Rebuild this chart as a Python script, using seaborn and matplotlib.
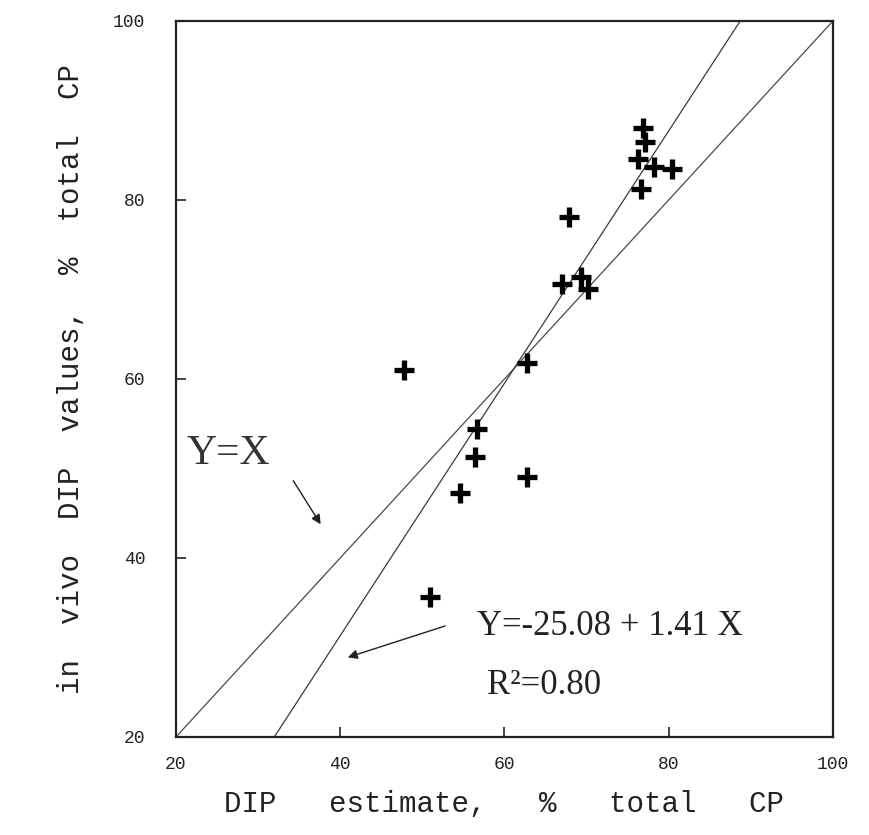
import matplotlib
matplotlib.use("Agg")
import matplotlib.pyplot as plt
import seaborn as sns
import numpy as np
import pandas as pd

# ---- data ----
dip_estimate = [76.9, 77.1, 76.3, 78.2, 80.4, 76.6, 67.9, 67.0, 69.3, 70.2,
                62.8, 47.8, 56.7, 56.4, 62.8, 54.6, 50.9]
dip_invivo = [88.0, 86.5, 84.6, 83.7, 83.5, 81.2, 78.1, 70.6, 71.4, 70.1,
              61.8, 61.0, 54.4, 51.3, 49.0, 47.3, 35.6]
identity_x = [20, 100]
reg_intercept = -25.08
reg_slope = 1.41
tick_values = [20, 40, 60, 80, 100]
tick_labels = ["20", "40", "60", "80", "100"]

sns.set_style("ticks")
plt.rcParams['font.family'] = ['Liberation Mono', 'DejaVu Sans Mono']

fig = plt.figure(figsize=(8.69, 8.35), dpi=100)
ax = fig.add_axes([0.2025, 0.1174, 0.756, 0.8575])

df = pd.DataFrame({"x": dip_estimate, "y": dip_invivo})

# Y = X line
sns.lineplot(x=identity_x, y=identity_x, ax=ax, color="#4a4a4a", linewidth=0.9)
# regression line between y=20 and y=100
reg_y = np.array([20, 100])
reg_x = (reg_y - reg_intercept) / reg_slope
sns.lineplot(x=reg_x, y=reg_y, ax=ax, color="#3a3a3a", linewidth=0.9, sort=False)

sns.scatterplot(data=df, x="x", y="y", ax=ax, marker="+", s=200,
                color="black", linewidth=3.8, zorder=5)

ax.set_xlim(20, 100)
ax.set_ylim(20, 100)
ax.set_xticks(tick_values)
ax.set_xticklabels(tick_labels)
ax.set_yticks(tick_values)
ax.set_yticklabels(tick_labels)
ax.tick_params(direction="in", length=7, width=1.2, labelsize=13,
               colors="#222222")
ax.tick_params(axis="y", pad=22)
ax.tick_params(axis="x", pad=14)
for sp in ax.spines.values():
    sp.set_visible(True)
    sp.set_linewidth(1.6)
    sp.set_color("#222222")

ax.set_xlabel("DIP   estimate,   %   total   CP", fontsize=21,
              color="#222222", labelpad=12)
ax.set_ylabel("in  vivo  DIP  values,  %  total  CP", fontsize=21,
              color="#222222", labelpad=20)

serif = ['Liberation Serif', 'DejaVu Serif']
ax.text(21.3, 51.6, "Y=X", fontsize=30, family=serif, color="#333333",
        va="center", ha="left")
ax.annotate("", xy=(37.8, 43.5), xytext=(34.1, 48.9),
            arrowprops=dict(arrowstyle="-|>", color="#222222", lw=1.0,
                            mutation_scale=14))

ax.text(56.7, 32.3, "Y=-25.08 + 1.41 X", fontsize=25, family=serif,
        color="#222222", va="center", ha="left")
ax.text(57.9, 25.7, "R²=0.80", fontsize=25, family=serif,
        color="#222222", va="center", ha="left")
ax.annotate("", xy=(40.6, 28.8), xytext=(53.1, 32.5),
            arrowprops=dict(arrowstyle="-|>", color="#222222", lw=1.0,
                            mutation_scale=14))

fig.savefig("out.png", dpi=100)
